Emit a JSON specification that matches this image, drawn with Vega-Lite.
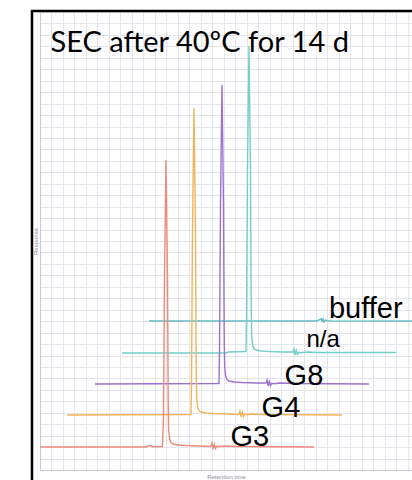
{
  "$schema": "https://vega.github.io/schema/vega-lite/v6.json",
  "width": 372,
  "height": 458,
  "autosize": "none",
  "padding": {"left": 40, "top": 12, "right": 0, "bottom": 10},
  "background": "white",
  "config": {
    "view": {"stroke": null},
    "font": "Liberation Sans",
    "axis": {
      "labels": false,
      "ticks": false,
      "grid": true,
      "gridColor": "#e5e5ee",
      "gridWidth": 1,
      "domainColor": "#c8c8d8",
      "domainWidth": 1,
      "titleFont": "Liberation Sans",
      "titleFontSize": 6,
      "titleFontWeight": "normal",
      "titleColor": "#8c8c96"
    }
  },
  "datasets": {
    "traces": [
      {"sample": "buffer", "t": 9.478, "r": 13.013},
      {"sample": "buffer", "t": 24.0, "r": 13.013},
      {"sample": "buffer", "t": 24.26, "r": 13.1},
      {"sample": "buffer", "t": 24.44, "r": 13.23},
      {"sample": "buffer", "t": 24.52, "r": 13.0},
      {"sample": "buffer", "t": 24.61, "r": 13.19},
      {"sample": "buffer", "t": 24.7, "r": 12.93},
      {"sample": "buffer", "t": 24.83, "r": 13.1},
      {"sample": "buffer", "t": 25.0, "r": 13.04},
      {"sample": "buffer", "t": 25.5, "r": 13.0},
      {"sample": "buffer", "t": 32.35, "r": 13.013},

      {"sample": "n/a", "t": 7.13, "r": 10.218},
      {"sample": "n/a", "t": 16.17, "r": 10.218},
      {"sample": "n/a", "t": 16.35, "r": 10.31},
      {"sample": "n/a", "t": 17.91, "r": 10.35},
      {"sample": "n/a", "t": 17.957, "r": 12.899},
      {"sample": "n/a", "t": 18.044, "r": 26.304},
      {"sample": "n/a", "t": 18.174, "r": 37.028},
      {"sample": "n/a", "t": 18.304, "r": 26.304},
      {"sample": "n/a", "t": 18.368, "r": 14.24},
      {"sample": "n/a", "t": 18.41, "r": 11.703},
      {"sample": "n/a", "t": 18.49, "r": 10.917},
      {"sample": "n/a", "t": 18.609, "r": 10.611},
      {"sample": "n/a", "t": 18.783, "r": 10.48},
      {"sample": "n/a", "t": 19.217, "r": 10.393},
      {"sample": "n/a", "t": 19.913, "r": 10.349},
      {"sample": "n/a", "t": 21.13, "r": 10.305},
      {"sample": "n/a", "t": 22.0, "r": 10.305},
      {"sample": "n/a", "t": 22.087, "r": 10.567},
      {"sample": "n/a", "t": 22.191, "r": 10.043},
      {"sample": "n/a", "t": 22.287, "r": 10.436},
      {"sample": "n/a", "t": 22.391, "r": 10.087},
      {"sample": "n/a", "t": 22.522, "r": 10.288},
      {"sample": "n/a", "t": 22.696, "r": 10.244},
      {"sample": "n/a", "t": 23.217, "r": 10.305},
      {"sample": "n/a", "t": 24.261, "r": 10.262},
      {"sample": "n/a", "t": 30.957, "r": 10.262},

      {"sample": "G8", "t": 4.783, "r": 7.511},
      {"sample": "G8", "t": 15.565, "r": 7.555},
      {"sample": "G8", "t": 15.609, "r": 10.122},
      {"sample": "G8", "t": 15.696, "r": 23.177},
      {"sample": "G8", "t": 15.826, "r": 33.621},
      {"sample": "G8", "t": 15.956, "r": 23.177},
      {"sample": "G8", "t": 16.02, "r": 11.428},
      {"sample": "G8", "t": 16.06, "r": 8.996},
      {"sample": "G8", "t": 16.145, "r": 8.21},
      {"sample": "G8", "t": 16.261, "r": 7.904},
      {"sample": "G8", "t": 16.435, "r": 7.773},
      {"sample": "G8", "t": 16.869, "r": 7.686},
      {"sample": "G8", "t": 17.565, "r": 7.642},
      {"sample": "G8", "t": 18.783, "r": 7.598},
      {"sample": "G8", "t": 19.652, "r": 7.598},
      {"sample": "G8", "t": 19.739, "r": 7.86},
      {"sample": "G8", "t": 19.843, "r": 7.336},
      {"sample": "G8", "t": 19.939, "r": 7.729},
      {"sample": "G8", "t": 20.043, "r": 7.38},
      {"sample": "G8", "t": 20.174, "r": 7.581},
      {"sample": "G8", "t": 20.348, "r": 7.537},
      {"sample": "G8", "t": 20.869, "r": 7.598},
      {"sample": "G8", "t": 21.913, "r": 7.555},
      {"sample": "G8", "t": 28.61, "r": 7.511},

      {"sample": "G4", "t": 2.348, "r": 4.803},
      {"sample": "G4", "t": 13.13, "r": 4.847},
      {"sample": "G4", "t": 13.174, "r": 7.484},
      {"sample": "G4", "t": 13.261, "r": 20.889},
      {"sample": "G4", "t": 13.391, "r": 31.613},
      {"sample": "G4", "t": 13.521, "r": 20.889},
      {"sample": "G4", "t": 13.585, "r": 8.825},
      {"sample": "G4", "t": 13.625, "r": 6.288},
      {"sample": "G4", "t": 13.71, "r": 5.502},
      {"sample": "G4", "t": 13.826, "r": 5.196},
      {"sample": "G4", "t": 14.0, "r": 5.065},
      {"sample": "G4", "t": 14.434, "r": 4.978},
      {"sample": "G4", "t": 15.13, "r": 4.934},
      {"sample": "G4", "t": 16.348, "r": 4.89},
      {"sample": "G4", "t": 17.217, "r": 4.847},
      {"sample": "G4", "t": 17.304, "r": 4.89},
      {"sample": "G4", "t": 17.391, "r": 5.152},
      {"sample": "G4", "t": 17.495, "r": 4.628},
      {"sample": "G4", "t": 17.591, "r": 5.021},
      {"sample": "G4", "t": 17.695, "r": 4.672},
      {"sample": "G4", "t": 17.826, "r": 4.873},
      {"sample": "G4", "t": 18.0, "r": 4.829},
      {"sample": "G4", "t": 18.434, "r": 4.89},
      {"sample": "G4", "t": 19.478, "r": 4.847},
      {"sample": "G4", "t": 26.26, "r": 4.803},

      {"sample": "G3", "t": 0.0, "r": 2.01},
      {"sample": "G3", "t": 9.217, "r": 2.01},
      {"sample": "G3", "t": 9.391, "r": 2.115},
      {"sample": "G3", "t": 9.652, "r": 2.115},
      {"sample": "G3", "t": 9.826, "r": 2.036},
      {"sample": "G3", "t": 10.65, "r": 2.054},
      {"sample": "G3", "t": 10.74, "r": 4.517},
      {"sample": "G3", "t": 10.827, "r": 17.03},
      {"sample": "G3", "t": 10.957, "r": 27.08},
      {"sample": "G3", "t": 11.087, "r": 17.03},
      {"sample": "G3", "t": 11.15, "r": 5.765},
      {"sample": "G3", "t": 11.19, "r": 3.495},
      {"sample": "G3", "t": 11.28, "r": 2.709},
      {"sample": "G3", "t": 11.391, "r": 2.403},
      {"sample": "G3", "t": 11.565, "r": 2.272},
      {"sample": "G3", "t": 12.0, "r": 2.185},
      {"sample": "G3", "t": 12.696, "r": 2.141},
      {"sample": "G3", "t": 13.913, "r": 2.097},
      {"sample": "G3", "t": 14.783, "r": 2.054},
      {"sample": "G3", "t": 14.87, "r": 2.097},
      {"sample": "G3", "t": 14.957, "r": 2.359},
      {"sample": "G3", "t": 15.061, "r": 1.835},
      {"sample": "G3", "t": 15.157, "r": 2.228},
      {"sample": "G3", "t": 15.261, "r": 1.879},
      {"sample": "G3", "t": 15.391, "r": 2.08},
      {"sample": "G3", "t": 15.565, "r": 2.036},
      {"sample": "G3", "t": 16.0, "r": 2.097},
      {"sample": "G3", "t": 17.043, "r": 2.054},
      {"sample": "G3", "t": 23.826, "r": 2.01}
    ],
    "labels": [
      {"label": "buffer", "t": 25.13, "r": 13.275},
      {"label": "n/a", "t": 23.17, "r": 10.786},
      {"label": "G8", "t": 21.27, "r": 7.467},
      {"label": "G4", "t": 19.27, "r": 4.672},
      {"label": "G3", "t": 16.57, "r": 2.096}
    ]
  },
  "encoding": {
    "x": {
      "field": "t",
      "type": "quantitative",
      "scale": {"domain": [0, 32.35], "nice": false, "zero": false},
      "axis": {
        "title": "Retention time",
        "titlePadding": 3,
        "values": [0, 1, 2, 3, 4, 5, 6, 7, 8, 9, 10, 11, 12, 13, 14, 15, 16, 17, 18, 19, 20, 21, 22, 23, 24, 25, 26, 27, 28, 29, 30, 31, 32]
      }
    },
    "y": {
      "field": "r",
      "type": "quantitative",
      "scale": {"domain": [0, 40], "nice": false, "zero": false},
      "axis": {
        "title": "Response",
        "titlePadding": 2,
        "values": [0, 1, 2, 3, 4, 5, 6, 7, 8, 9, 10, 11, 12, 13, 14, 15, 16, 17, 18, 19, 20, 21, 22, 23, 24, 25, 26, 27, 28, 29, 30, 31, 32, 33, 34, 35, 36, 37, 38, 39, 40]
      }
    }
  },
  "layer": [
    {
      "data": {"name": "traces"},
      "mark": {"type": "line", "strokeWidth": 1.4, "interpolate": "linear"},
      "encoding": {
        "color": {
          "field": "sample",
          "type": "nominal",
          "scale": {
            "domain": ["G3", "G4", "G8", "n/a", "buffer"],
            "range": ["#ef8a7a", "#f2b45a", "#9b72cf", "#72d0c8", "#66bcc6"]
          },
          "legend": null
        }
      }
    },
    {
      "data": {"name": "labels"},
      "mark": {"type": "text", "align": "left", "baseline": "alphabetic", "font": "Liberation Sans", "color": "black"},
      "encoding": {
        "text": {"field": "label"},
        "size": {"condition": {"test": "datum.label === 'n/a'", "value": 24}, "value": 29}
      }
    },
    {
      "data": {"values": [{"title": "SEC after 40ºC for 14 d", "t": 0.913, "r": 36.507}]},
      "mark": {"type": "text", "align": "left", "baseline": "alphabetic", "font": "Lato", "fontSize": 29, "color": "black"},
      "encoding": {
        "text": {"field": "title"}
      }
    },
    {
      "data": {"values": [{"t": -0.696, "r": 40.087, "r_end": -1.0}]},
      "mark": {"type": "rule", "color": "black", "strokeWidth": 2.5},
      "encoding": {
        "y2": {"field": "r_end"}
      }
    },
    {
      "data": {"values": [{"t": -0.8, "t_end": 33.0, "r": 40.087}]},
      "mark": {"type": "rule", "color": "black", "strokeWidth": 2.5},
      "encoding": {
        "x2": {"field": "t_end"}
      }
    }
  ]
}
